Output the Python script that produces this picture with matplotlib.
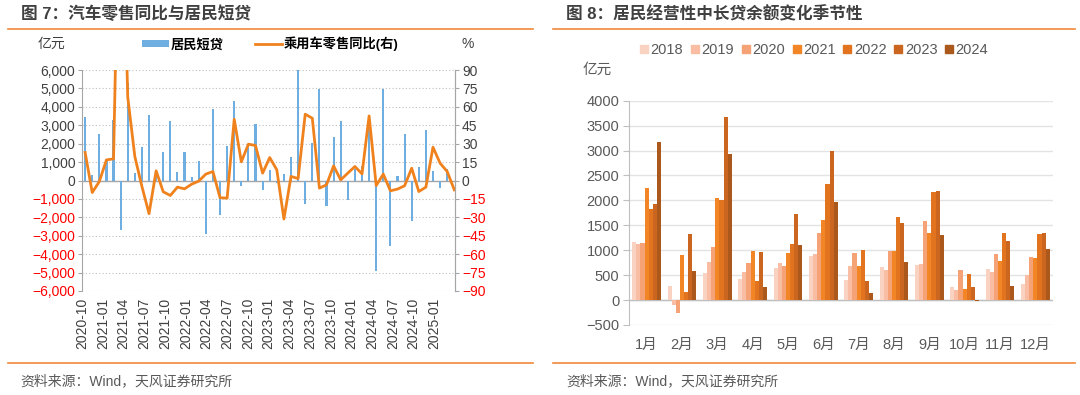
import matplotlib.pyplot as plt
import numpy as np
from matplotlib.lines import Line2D
from matplotlib.patches import Patch

plt.rcParams['font.family'] = ['Liberation Sans', 'Noto Sans CJK SC']

# ---- 图7 data: 居民短贷 (亿元) and 乘用车零售同比 (%), monthly from 2020-10
loan_short = [3440, 300, 2530, 1100, 3300, -2710, 5280, 400, 1840, 3530, 250, 1540,
              3250, 450, 1550, 200, 1070, -2930, 3890, -1880, 1880, 4320, -290, 1950,
              3070, -520, 580, -160, 380, 1250, 6000, -1270, 2030, 4950, -1360, 2350,
              3250, -1070, 630, 800, 2900, -4900, 4950, -3540, 270, 2500, -2190, 760,
              2730, 520, -420, 630, np.nan]
car_yoy = [22.8, -9.8, -0.8, 16.8, 17.6, 300, 68, 19.5, -4.9, -27, 7.9, -9.2,
           -12.2, -5.4, -6.8, -3, -0.5, 5.2, 7.3, -14, -14.4, 49.9, 15.2, 29.6,
           28.5, 6, 18.7, 8.7, -31.4, 3.3, 1.6, 54, 50.7, -6.2, -3.5, 11.9,
           0.5, 6, 11.4, 5.4, 52.6, -4.1, 5.2, -8.4, -7, -4.3, 10, -9,
           -5.4, 27.1, 14.1, 7.3, -7.6]
date_labels = ['2020-10', '2021-01', '2021-04', '2021-07', '2021-10', '2022-01',
               '2022-04', '2022-07', '2022-10', '2023-01', '2023-04', '2023-07',
               '2023-10', '2024-01', '2024-04', '2024-07', '2024-10', '2025-01']

# ---- 图8 data: 居民经营性中长贷余额变化 (亿元)
month_names = ['1月', '2月', '3月', '4月', '5月', '6月', '7月', '8月', '9月', '10月', '11月', '12月']
years = ['2018', '2019', '2020', '2021', '2022', '2023', '2024']
v2018 = [1158, 288, 549, 415, 649, 890, 402, 656, 696, 254, 616, 321]
v2019 = [1131, -100, 763, 569, 750, 930, 683, 609, 730, 194, 556, 495]
v2020 = [1138, -268, 1058, 736, 689, 1345, 937, 984, 1593, 602, 924, 870]
v2021 = [2256, 904, 2055, 984, 944, 1613, 683, 984, 1345, 221, 776, 843]
v2022 = [1827, 167, 2008, 388, 1131, 2336, 1011, 1660, 2162, 515, 1345, 1319]
v2023 = [1928, 1325, 3668, 957, 1720, 2999, 382, 1540, 2189, 261, 1185, 1345]
v2024 = [3166, 589, 2938, 254, 1098, 1961, 134, 770, 1305, -27, 288, 1017]
year_colors = ['#FAD2C1', '#F8BDA2', '#F4A276', '#F28525', '#E2741F', '#CA661F', '#AA581C']

W, H = 1080, 395
fig = plt.figure(figsize=(W / 100, H / 100), dpi=100)
txt = '#404040'
red = '#FF0000'
rule = '#F0883A'


def fx(px):
    return px / W


def fy(py):
    return 1 - py / H


# titles, rules, footers
fig.text(fx(21), fy(14), '图 7：汽车零售同比与居民短贷', fontsize=12, fontweight='bold',
         color=txt, va='center')
fig.text(fx(566), fy(14), '图 8：居民经营性中长贷余额变化季节性', fontsize=12, fontweight='bold',
         color=txt, va='center')
for x0, x1 in [(8, 533), (553, 1075)]:
    fig.add_artist(Line2D([fx(x0), fx(x1)], [fy(29), fy(29)], color=rule, lw=1.2))
    fig.add_artist(Line2D([fx(x0), fx(x1)], [fy(363), fy(363)], color=rule, lw=1.2))
fig.text(fx(20), fy(381), '资料来源：Wind，天风证券研究所', fontsize=10, color='#595959', va='center')
fig.text(fx(566), fy(381), '资料来源：Wind，天风证券研究所', fontsize=10, color='#595959', va='center')

# ---------------- left chart
ax1 = fig.add_axes([fx(82.3), fy(291), (455 - 82.3) / W, (291 - 70) / H])
x = np.arange(len(car_yoy))
ax1.bar(x, loan_short, width=0.3, color='#6EAEE0', zorder=2)
ax1.axhline(0, color='#A6A6A6', lw=1, zorder=1)
ax1.set_ylim(-6000, 6000)
yt = np.arange(-6000, 6001, 1000)
ax1.set_yticks(yt, labels=[f'{v:,}'.replace('-', '−') for v in yt])
for v, lab in zip(yt, ax1.get_yticklabels()):
    lab.set_color(red if v < 0 else txt)
ax1.grid(axis='y', ls=(0, (1, 2)), color='#BFBFBF', lw=0.8)
ax1.set_axisbelow(True)
ax1.set_xlim(-0.2, len(x) - 0.9)
# label positions as spaced in the source chart
ax1.set_xticks(np.linspace(-0.4, 49.2, len(date_labels)), labels=date_labels, rotation=90)
ax1.tick_params(axis='x', length=0, pad=5, labelsize=10, labelcolor=txt)
ax1.tick_params(axis='y', length=3, color='#A6A6A6', labelsize=10, pad=2)
for s in ['top', 'bottom']:
    ax1.spines[s].set_visible(False)
for s in ['left', 'right']:
    ax1.spines[s].set_color('#A6A6A6')

ax2 = ax1.twinx()
ax2.plot(x, car_yoy, color='#F0821E', lw=2)
ax2.set_ylim(-90, 90)
yt2 = np.arange(-90, 91, 15)
ax2.set_yticks(yt2, labels=[str(v).replace('-', '−') for v in yt2])
for v, lab in zip(yt2, ax2.get_yticklabels()):
    lab.set_color(red if v < 0 else txt)
ax2.tick_params(axis='y', length=3, color='#A6A6A6', labelsize=10, pad=2)
for s in ['top', 'bottom', 'left']:
    ax2.spines[s].set_visible(False)
ax2.spines['right'].set_color('#A6A6A6')

fig.text(fx(38), fy(44), '亿元', fontsize=10, color=txt, va='center')
fig.text(fx(462), fy(44), '%', fontsize=10, color=txt, va='center')
fig.legend([Patch(facecolor='#6EAEE0'), Line2D([], [], color='#F0821E', lw=2)],
           ['居民短贷', '乘用车零售同比(右)'], loc='center left',
           bbox_to_anchor=(fx(137), fy(44)), ncol=2, frameon=False,
           prop={'size': 9.5, 'weight': 'bold'}, handlelength=2.0, handleheight=0.5,
           handletextpad=0.15, columnspacing=2.4, borderaxespad=0)

# ---------------- right chart
ax3 = fig.add_axes([fx(629), fy(325), 424 / W, (325 - 100.7) / H])
g = np.arange(len(month_names))
bw = 0.117
for j, (yr, vals, c) in enumerate(zip(years, [v2018, v2019, v2020, v2021, v2022, v2023, v2024], year_colors)):
    ax3.bar(g + (j - 3) * bw, vals, width=bw, color=c, zorder=2)
ax3.axhline(0, color='#BFBFBF', lw=1, zorder=1)
ax3.set_xlim(-0.5, 11.5)
ax3.set_ylim(-500, 4000)
ax3.set_yticks(np.arange(-500, 4001, 500))
ax3.grid(axis='y', color='#E3E3E3', lw=1)
ax3.set_axisbelow(True)
ax3.set_xticks(g, labels=month_names)
ax3.tick_params(axis='x', length=0, pad=9, labelsize=10.5, labelcolor='#595959')
ax3.tick_params(axis='y', length=4, color='#BFBFBF', labelsize=10.5, labelcolor='#595959', pad=3)
for s in ['top', 'bottom', 'right']:
    ax3.spines[s].set_visible(False)
ax3.spines['left'].set_color('#BFBFBF')

fig.text(fx(583), fy(70), '亿元', fontsize=10.5, color='#595959', va='center')
handles = [Line2D([], [], ls='none', marker='s', markersize=6, color=c) for c in year_colors]
fig.legend(handles, years, loc='center left', bbox_to_anchor=(fx(633), fy(50)), ncol=7,
           frameon=False, prop={'size': 10.5}, labelcolor='#595959', handlelength=0.7,
           handletextpad=0.1, columnspacing=0.45, borderaxespad=0)

fig.savefig('out.png', dpi=100, facecolor='white')
